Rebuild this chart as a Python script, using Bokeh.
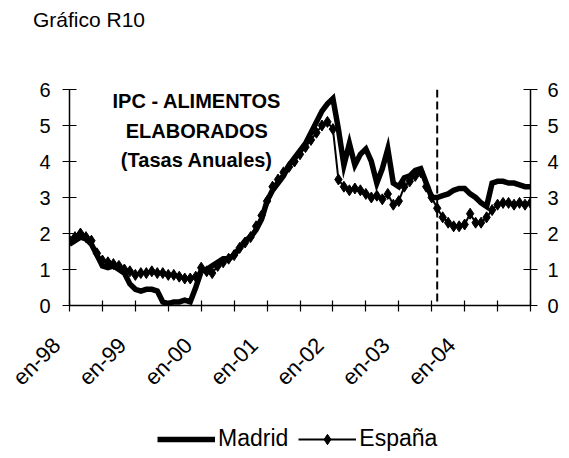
import math
from bokeh.plotting import figure
from bokeh.layouts import column
from bokeh.models import (Range1d, LinearAxis, FixedTicker, Span, Legend,
                          LegendItem, Div)
from bokeh.core.properties import value
from bokeh.embed import file_html
from bokeh.resources import INLINE

# ---- data (monthly annual rates, en-98 .. en-05) ----
madrid = [1.7, 1.8, 1.9, 1.85, 1.7, 1.4, 1.1, 1.05, 1.1, 1.0, 0.9, 0.6,
          0.45, 0.4, 0.45, 0.45, 0.4, 0.1, 0.05, 0.1, 0.1, 0.15, 0.1, 0.5,
          0.95, 1.0, 1.1, 1.2, 1.3, 1.3, 1.4, 1.6, 1.8, 1.9, 2.1, 2.4,
          2.9, 3.2, 3.4, 3.6, 3.9, 4.1, 4.3, 4.5, 4.8, 5.1, 5.4, 5.6,
          5.75, 4.9, 3.9, 4.5, 3.9, 4.2, 4.35, 4.0, 3.4, 3.8, 4.35, 3.4,
          3.3, 3.55, 3.6, 3.75, 3.8, 3.4, 3.0, 3.0, 3.05, 3.1, 3.2, 3.25,
          3.25, 3.1, 3.0, 2.85, 2.75, 3.4, 3.45, 3.45, 3.4, 3.4, 3.35, 3.3,
          3.3]
espana = [1.8, 1.9, 2.0, 1.9, 1.8, 1.45, 1.25, 1.2, 1.15, 1.1, 1.0, 0.95,
          0.85, 0.9, 0.9, 0.95, 0.9, 0.9, 0.85, 0.85, 0.8, 0.75, 0.75, 0.8,
          1.05, 0.95, 0.9, 1.1, 1.2, 1.3, 1.4, 1.6, 1.75, 1.9, 2.2, 2.5,
          2.9, 3.3, 3.5, 3.7, 3.85, 4.0, 4.2, 4.4, 4.6, 4.8, 5.0, 5.1,
          4.9, 3.5, 3.3, 3.2, 3.25, 3.2, 3.1, 3.0, 3.05, 2.95, 3.1, 2.8,
          2.9, 3.3, 3.45, 3.6, 3.7, 3.3, 3.0, 2.7, 2.45, 2.3, 2.2, 2.2,
          2.25, 2.55, 2.3, 2.3, 2.45, 2.65, 2.8, 2.85, 2.85, 2.8, 2.85, 2.8,
          2.85]
year_labels = ["en-98", "en-99", "en-00", "en-01", "en-02", "en-03", "en-04"]
y_ticks = [0, 1, 2, 3, 4, 5, 6]
series_names = ["Madrid", "España"]
chart_title = "Gráfico R10"
note_lines = ["IPC - ALIMENTOS", "ELABORADOS", "(Tasas Anuales)"]
marker_month = 67  # vertical dashed reference line

months = list(range(len(madrid)))
FONT = "Liberation Sans"

# ---- layout constants ----
W = 565
TITLE_H = 50
MAIN_BOTTOM = 102
LEGEND_H = 48
note_x = 23.2
note_y = [5.69, 4.86, 4.03]
tick_step = 6
label_step = 12
label_pad = "\u00a0\u00a0\u00a0"   # nudges rotated labels down-left


def bare(fig):
    fig.xgrid.visible = False
    fig.ygrid.visible = False
    fig.outline_line_color = None
    fig.background_fill_color = "white"
    fig.border_fill_color = "white"


# ---- title ----
title_div = Div(
    text=('<div style="font-family:\'Liberation Sans\',Arial,sans-serif;'
          'font-size:21px;line-height:24px;color:black;margin:0;'
          'padding:8px 0 0 33px;white-space:nowrap;">' + chart_title +
          '</div>'),
    width=W, height=TITLE_H, margin=0)

# ---- main chart ----
p = figure(frame_width=461, frame_height=216,
           x_range=Range1d(0, len(madrid) - 1), y_range=Range1d(0, 6),
           output_backend="svg", toolbar_location=None,
           min_border_left=69, min_border_right=W - 69 - 461,
           min_border_top=89 - TITLE_H, min_border_bottom=MAIN_BOTTOM)
bare(p)


def style_y(ax, standoff):
    ax.ticker = FixedTicker(ticks=y_ticks)
    ax.minor_tick_line_color = None
    ax.major_tick_in = 7
    ax.major_tick_out = 7
    ax.axis_line_width = 1.5
    ax.major_tick_line_width = 1.2
    ax.axis_line_color = "black"
    ax.major_tick_line_color = "black"
    ax.major_label_text_font = FONT
    ax.major_label_text_font_size = "20px"
    ax.major_label_text_color = "black"
    ax.major_label_standoff = standoff


style_y(p.yaxis[0], 12)
right = LinearAxis()
style_y(right, 10)
p.add_layout(right, "right")

xa = p.xaxis[0]
xticks = list(range(0, len(madrid), tick_step))
xa.ticker = FixedTicker(ticks=xticks)
overrides = {t: "" for t in xticks}
for i, lab in enumerate(year_labels):
    overrides[i * label_step] = lab + label_pad
xa.major_label_overrides = overrides
xa.major_label_orientation = math.pi / 4
xa.minor_tick_line_color = None
xa.major_tick_in = 5
xa.major_tick_out = 6
xa.axis_line_width = 1.5
xa.major_tick_line_width = 1.2
xa.axis_line_color = "black"
xa.major_tick_line_color = "black"
xa.major_label_text_font = FONT
xa.major_label_text_font_size = "22px"
xa.major_label_text_color = "black"
xa.major_label_standoff = 17

p.line(months, madrid, line_color="black", line_width=5.5, line_join="miter")
p.line(months, espana, line_color="black", line_width=2)
p.scatter(months, espana, marker="diamond", size=11,
          fill_color="black", line_color="black")

p.add_layout(Span(location=marker_month, dimension="height",
                  line_color="black", line_width=2, line_dash="8 4"))

p.text(x=[note_x] * len(note_lines), y=note_y, text=note_lines,
       text_font=value(FONT), text_font_style="bold",
       text_font_size="20px", text_align="center",
       text_baseline="middle", text_color="black")

# ---- legend strip (frame aligned with the chart above) ----
pl = figure(width=W, height=LEGEND_H, x_range=Range1d(0, 1),
            y_range=Range1d(0, 1), output_backend="svg",
            toolbar_location=None, x_axis_location=None,
            y_axis_location=None, min_border=0)
bare(pl)
l_mad = pl.line(months, madrid, line_color="black", line_width=5.5,
                visible=False)
l_esp = pl.line(months, espana, line_color="black", line_width=2,
                visible=False)
l_esp_pts = pl.scatter(months, espana, marker="diamond", size=11,
                       fill_color="black", line_color="black", visible=False)
legend = Legend(items=[LegendItem(label=series_names[0], renderers=[l_mad]),
                       LegendItem(label=series_names[1],
                                  renderers=[l_esp, l_esp_pts])],
                orientation="horizontal", location=(88, 3),
                glyph_width=58, glyph_height=26, label_standoff=3, spacing=10,
                padding=0, margin=0, border_line_color=None,
                background_fill_alpha=0, inactive_fill_alpha=0,
                label_text_font=FONT, label_text_font_size="23px",
                label_text_color="black")
pl.add_layout(legend)

page = column(title_div, p, pl, spacing=0)
open("out.html", "w").write(file_html(page, INLINE))
